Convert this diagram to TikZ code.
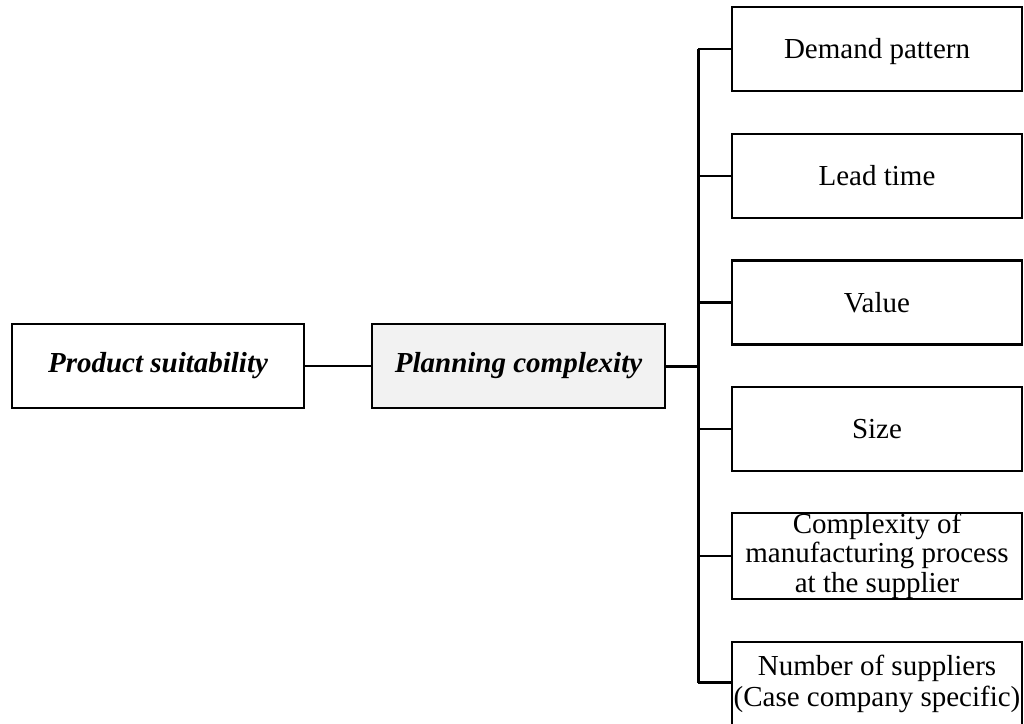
\documentclass[tikz,border=0pt]{standalone}
\usepackage{fontspec}
\setmainfont{Liberation Serif}
\begin{document}
\begin{tikzpicture}[x=1pt,y=-1pt,
  box/.style={draw=black, line width=2.2pt, fill=white, inner sep=0pt,
    minimum height=84pt, align=center,
    font=\fontsize{29}{29.5}\selectfont},
  mainbox/.style={box, font=\fontsize{29}{29.5}\selectfont\bfseries\itshape},
  factor/.style={box, minimum width=290pt},
  oneline/.style={factor, text height=19.5pt, text depth=0pt},
  link/.style={line width=2.2pt},
  trunk/.style={line width=3pt}]
\clip (0,0) rectangle (1024,723);
\fill[white] (0,0) rectangle (1024,723);

% main chain
\node[mainbox, minimum width=292pt] (ps) at (158,366) {Product suitability};
\node[mainbox, minimum width=293pt, fill={rgb,255:red,242;green,242;blue,242}] (pc) at (518.5,366) {Planning complexity};

% factor boxes
\node[oneline] (f1) at (877,49)    {Demand pattern};
\node[oneline] (f2) at (877,175.7) {Lead time};
\node[oneline] (f3) at (877,302.4) {Value};
\node[oneline] (f4) at (877,429.1) {Size};
\node[factor]  (f5) at (877,555.8) {Complexity of\\manufacturing process\\at the supplier};
\node[factor, font=\fontsize{29}{30.5}\selectfont] (f6) at (877,684) {Number of suppliers\\(Case company specific)};

% bus
\coordinate (bt) at (698,49);
\coordinate (bb) at (698,682.5);
\coordinate (bm) at (698,366);
\draw[trunk] (bt) -- (bb);
\draw[link] (ps.east) -- (pc.west);
\draw[trunk] (pc.east) -- (bm);

\foreach \f/\y in {f1/49,f2/175.7,f3/302.4,f4/429.1,f5/555.8,f6/682.5}
  \draw[link] (698,\y) -- (\f.west |- 0,\y);
\end{tikzpicture}
\end{document}
